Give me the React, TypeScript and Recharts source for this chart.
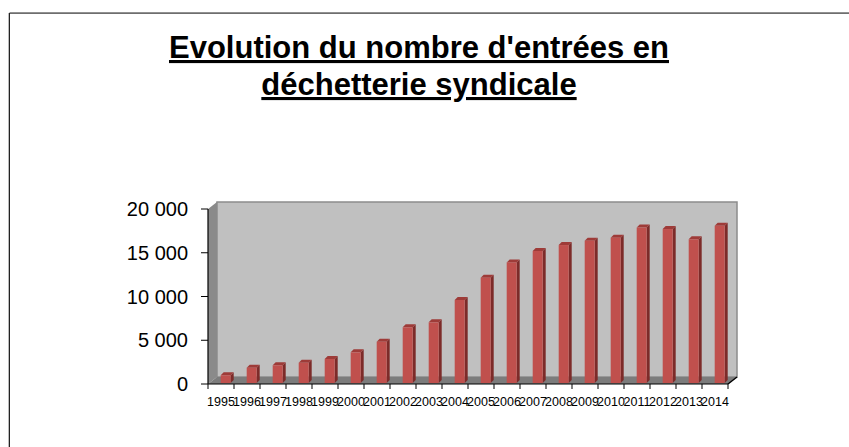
import { BarChart, Bar, XAxis, YAxis } from "recharts";

const years = [
  "1995", "1996", "1997", "1998", "1999", "2000", "2001", "2002", "2003", "2004",
  "2005", "2006", "2007", "2008", "2009", "2010", "2011", "2012", "2013", "2014",
];
const entries = [
  1000, 1860, 2140, 2430, 2860, 3620, 4830, 6480, 7050, 9600,
  12150, 13900, 15200, 15880, 16380, 16720, 17880, 17710, 16540, 18080,
];
const yTicks = [0, 5000, 10000, 15000, 20000];
const titleLines = ["Evolution du nombre d'entrées en", "déchetterie syndicale"];

const data = years.map((year, i) => ({ year, entries: entries[i] }));

const W = 849;
const H = 447;
const LEFT = 208;
const TOP = 209;
const RIGHT = 728;
const BOTTOM = 384;
const DX = 9;
const DY = 7;
const BAND = (RIGHT - LEFT) / years.length;
const FONT = "'Liberation Sans', Arial, sans-serif";

const fmt = (v: number) =>
  v === 0 ? "0" : `${Math.floor(v / 1000)} ${String(v % 1000).padStart(3, "0")}`;

// 3d-ish column: front face, dark side, cap
function Column(props: any) {
  const { x, y, width, height } = props;
  if (height == null || height <= 0) return null;
  const cx = x + width / 2;
  const fx = cx - 0.5;
  const fw = 10;
  const sd = 3;
  const bottom = y + height - 1;
  return (
    <g>
      <polygon
        points={`${fx + fw},${y} ${fx + fw + sd},${y - sd} ${fx + fw + sd},${bottom - sd} ${fx + fw},${bottom}`}
        fill="#7d2b29"
      />
      <polygon
        points={`${fx},${y} ${fx + sd},${y - sd} ${fx + fw + sd},${y - sd} ${fx + fw},${y}`}
        fill="#9e3b38"
      />
      <rect x={fx} y={y} width={fw} height={bottom - y} fill="#c0504d" />
    </g>
  );
}

function CategoryTick(props: any) {
  const { x, payload, index } = props;
  const last = index === years.length - 1;
  return (
    <g>
      <line x1={x - BAND / 2} y1={BOTTOM} x2={x - BAND / 2} y2={BOTTOM + 5} stroke="#000" />
      {last && <line x1={x + BAND / 2} y1={BOTTOM} x2={x + BAND / 2} y2={BOTTOM + 5} stroke="#000" />}
      <text x={x} y={BOTTOM + 22} textAnchor="middle" fontSize={12.5} fontFamily={FONT} fill="#000">
        {payload.value}
      </text>
    </g>
  );
}

export default function App() {
  return (
    <div style={{ position: "absolute", left: 0, top: 0, width: W, height: H, background: "#fff" }}>
      <svg width={W} height={H} style={{ position: "absolute", left: 0, top: 0 }}>
        <line x1={8} y1={13.5} x2={W} y2={13.5} stroke="#bbb" />
        <line x1={9.5} y1={13} x2={W} y2={13} stroke="#222" />
        <line x1={8.5} y1={13} x2={8.5} y2={H} stroke="#bbb" />
        <line x1={9.5} y1={13} x2={9.5} y2={H} stroke="#222" />
        {titleLines.map((t, i) => (
          <text
            key={i}
            x={419}
            y={58 + i * 37}
            textAnchor="middle"
            fontSize={31}
            fontWeight="bold"
            fontFamily={FONT}
            textDecoration="underline"
            fill="#000"
          >
            {t}
          </text>
        ))}
        {/* back wall */}
        <rect
          x={LEFT + DX}
          y={TOP - DY}
          width={RIGHT - LEFT}
          height={BOTTOM - TOP}
          fill="#c0c0c0"
          stroke="#8c8c8c"
          strokeWidth={1.5}
        />
        {/* side wall */}
        <polygon
          points={`${LEFT},${TOP} ${LEFT + DX},${TOP - DY} ${LEFT + DX},${BOTTOM - DY} ${LEFT},${BOTTOM}`}
          fill="#8a8a8a"
        />
        {/* floor */}
        <polygon
          points={`${LEFT},${BOTTOM} ${LEFT + DX},${BOTTOM - DY} ${RIGHT + DX},${BOTTOM - DY} ${RIGHT},${BOTTOM}`}
          fill="#7c7c7c"
        />
        <line x1={RIGHT} y1={BOTTOM} x2={RIGHT + DX} y2={BOTTOM - DY} stroke="#000" strokeWidth={1.5} />
      </svg>
      <div style={{ position: "absolute", left: 0, top: 0 }}>
        <BarChart
          width={W}
          height={H}
          data={data}
          margin={{ top: TOP, right: W - RIGHT, bottom: 0, left: 0 }}
          barCategoryGap="20%"
        >
          <XAxis
            dataKey="year"
            height={H - BOTTOM}
            axisLine={{ stroke: "#000", strokeWidth: 1.2 }}
            tickLine={false}
            interval={0}
            tick={<CategoryTick />}
          />
          <YAxis
            width={LEFT}
            domain={[0, 20000]}
            ticks={yTicks}
            tickFormatter={fmt}
            axisLine={{ stroke: "#000", strokeWidth: 1.2 }}
            tickLine={{ stroke: "#000" }}
            tickSize={7}
            tickMargin={13}
            tick={{ fontSize: 20, fontFamily: FONT, fill: "#000" }}
          />
          <Bar dataKey="entries" shape={<Column />} isAnimationActive={false} />
        </BarChart>
      </div>
    </div>
  );
}
